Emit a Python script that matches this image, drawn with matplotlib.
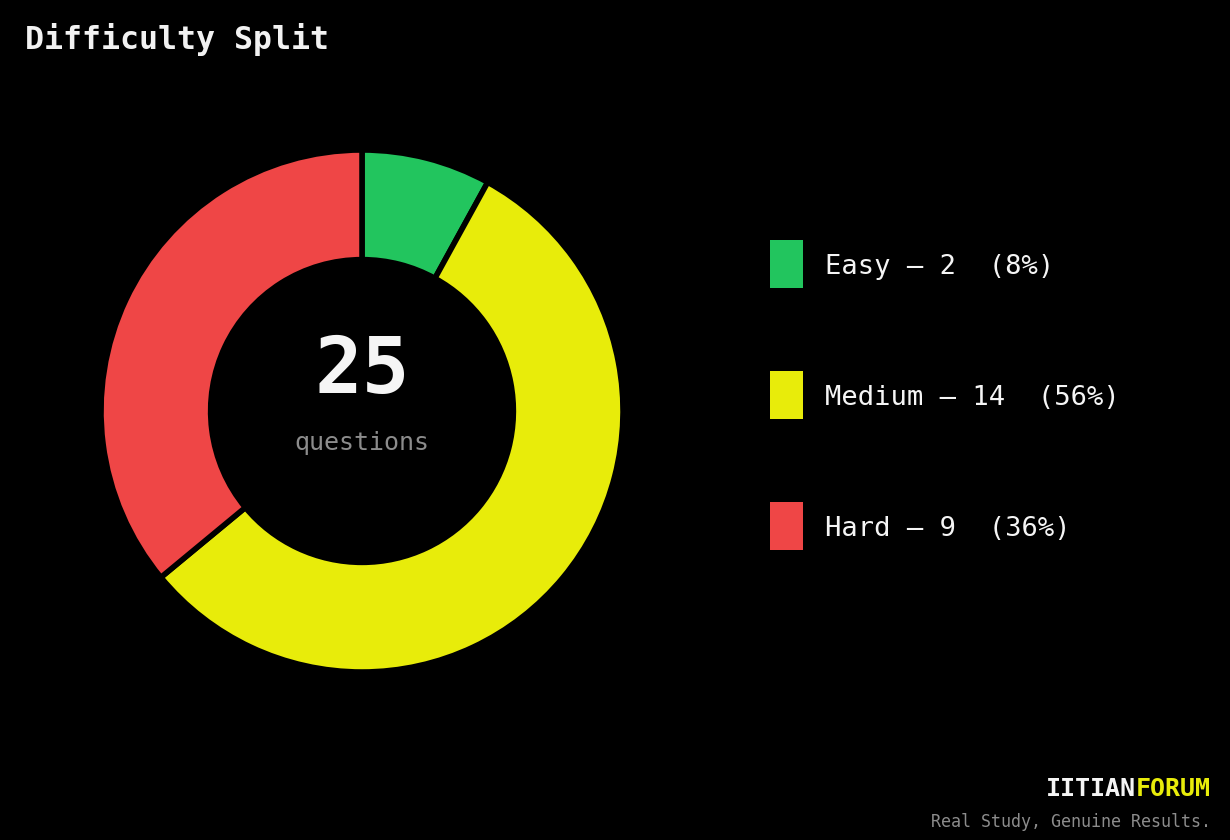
import matplotlib.pyplot as plt
from matplotlib.patches import Rectangle

categories = ['Easy', 'Medium', 'Hard']
counts = [2, 14, 9]
colors = ['#22C55E', '#E8EC0A', '#EF4646']

W, H = 1230, 840
plt.rcParams['font.family'] = 'DejaVu Sans Mono'

fig = plt.figure(figsize=(W / 100, H / 100), dpi=100, facecolor='black')


def fx(px):
    return px / W


def fy(py):
    return 1 - py / H


# donut
r = 261
cx, cy = 362, 411
ax = fig.add_axes([fx(cx - r), fy(cy + r), 2 * r / W, 2 * r / H])
ax.set_facecolor('black')
ax.pie(counts, colors=colors, startangle=90, counterclock=False,
       wedgeprops=dict(width=0.42, edgecolor='black', linewidth=4))
ax.set_xlim(-1, 1)
ax.set_ylim(-1, 1)
ax.set_aspect('equal')
ax.axis('off')

total = sum(counts)
fig.text(fx(cx), fy(393), str(total), ha='center', va='baseline',
         fontsize=57, fontweight='bold', color='#F5F5F5')
fig.text(fx(cx), fy(450), 'questions', ha='center', va='baseline',
         fontsize=18, color='#8C8C8C')

# title
fig.text(fx(25), fy(49), 'Difficulty Split', ha='left', va='baseline',
         fontsize=22.7, fontweight='bold', color='#F2F2F2')

# legend
for i, (cat, n, c) in enumerate(zip(categories, counts, colors)):
    yc = 264 + i * 131
    fig.add_artist(Rectangle((fx(770), fy(yc + 24)), 33 / W, 48 / H,
                             transform=fig.transFigure, facecolor=c,
                             edgecolor='none'))
    pct = round(100 * n / total)
    fig.text(fx(825), fy(yc + 10), f'{cat} \u2014 {n}  ({pct}%)',
             ha='left', va='baseline', fontsize=19.5, color='#F5F5F5')

# footer
t1 = fig.text(fx(1211), fy(796), 'FORUM', ha='right', va='baseline',
              fontsize=18, fontweight='bold', color='#E8EC0A')
fig.canvas.draw()
bb = t1.get_window_extent()
fig.text(bb.x0 / W, fy(796), 'IITIAN', ha='right', va='baseline',
         fontsize=18, fontweight='bold', color='#F5F5F5')
fig.text(fx(1211), fy(827), 'Real Study, Genuine Results.', ha='right',
         va='baseline', fontsize=12, color='#8C8C8C')

fig.savefig('out.png', dpi=100, facecolor='black')
